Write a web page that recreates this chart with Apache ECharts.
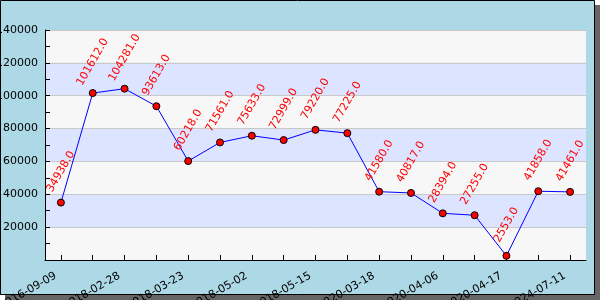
<!DOCTYPE html>
<html><head><meta charset="utf-8">
<script src="https://cdn.jsdelivr.net/npm/echarts@6/dist/echarts.min.js"></script>
<style>html,body{margin:0;padding:0;background:#fff}#c{width:600px;height:300px}</style>
</head><body><div id="c"></div>
<script>
const categories = ["2016-09-09","2017-11-20","2018-02-28","2018-03-12","2018-03-23","2018-04-10","2018-05-02","2018-05-09","2018-05-15","2019-08-21","2020-03-18","2020-03-27","2020-04-06","2020-04-11","2020-04-17","2022-06-01","2024-07-11"];
const values = [34938,101612,104281,93613,60218,71561,75633,72999,79220,77225,41580,40817,28394,27255,2553,41858,41461];
const yMin = 0, yMax = 140000, yStep = 20000;

const chart = echarts.init(document.getElementById('c'), null, {renderer:'canvas'});
const font = 'DejaVu Sans';
chart.setOption({
  backgroundColor: '#ffffff',
  animation: false,
  graphic: [
    {type:'rect', z:-100, shape:{x:5,y:5,width:595,height:295}, style:{fill:'#666666'}},
    {type:'rect', z:-99, shape:{x:0.5,y:0.5,width:594,height:294}, style:{fill:'#add8e6', stroke:'#000', lineWidth:1}}
  ],
  grid: {left:45, right:14, top:30, bottom:40, containLabel:false, outerBoundsMode:'none'},
  xAxis: {
    type:'category', data: categories, boundaryGap:true,
    axisLine:{show:true, lineStyle:{color:'#000', width:1}},
    axisTick:{show:true, inside:true, length:5, alignWithLabel:true, interval:0, lineStyle:{color:'#000'}},
    axisLabel:{interval:1, rotate:30, fontSize:11, fontFamily:font, color:'#000', margin:12, padding:[0,6,0,0], hideOverlap:false},
    splitLine:{show:false}
  },
  yAxis: {
    type:'value', min:yMin, max:yMax, interval:yStep,
    axisLine:{show:true, lineStyle:{color:'#000', width:1}},
    axisTick:{show:true, inside:true, length:5, lineStyle:{color:'#000'}},
    minorTick:{show:true, splitNumber:2, length:5, lineStyle:{color:'#000'}},
    axisLabel:{showMinLabel:false, fontSize:11, fontFamily:font, color:'#000', margin:7, formatter: v => String(v)},
    splitLine:{show:true, lineStyle:{color:'#c8c8c8', width:1}},
    splitArea:{show:true, areaStyle:{color:['#f7f7f7','#dde4ff']}}
  },
  series: [{
    type:'line', data: values,
    lineStyle:{color:'#0000ff', width:1},
    symbol:'circle', symbolSize:7,
    itemStyle:{color:'#ff0000', borderColor:'#000', borderWidth:1},
    label:{show:true, position:'top', distance:27, rotate:60, align:'center', verticalAlign:'middle',
      color:'#ff0000', fontSize:11, fontFamily:font,
      formatter: p => Number(p.value).toFixed(1)}
  }]
});
</script></body></html>
